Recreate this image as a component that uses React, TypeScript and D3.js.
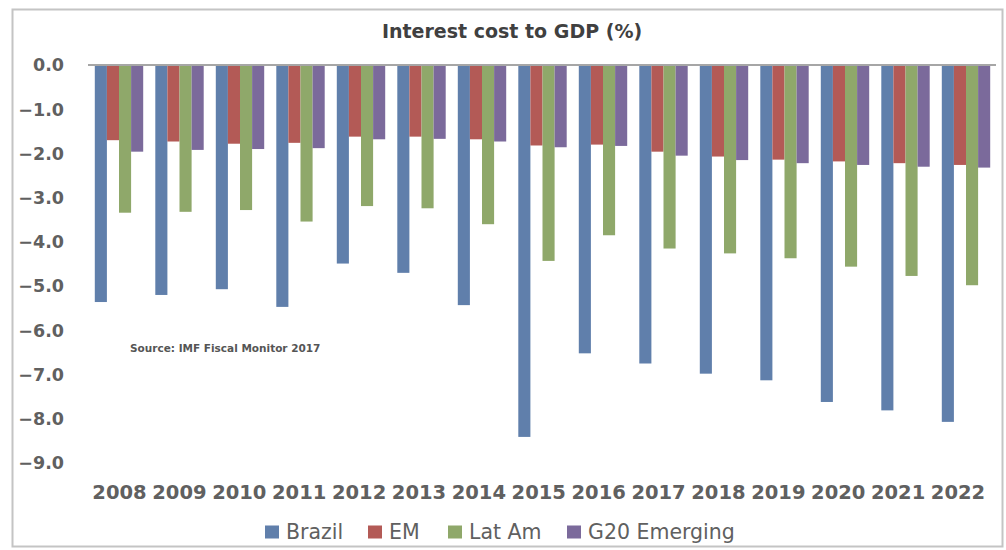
import React from "react";
import * as d3 from "d3";

const years = ["2008","2009","2010","2011","2012","2013","2014","2015","2016","2017","2018","2019","2020","2021","2022"];
const seriesNames = ["Brazil", "EM", "Lat Am", "G20 Emerging"];
const brazil = [-5.36,-5.20,-5.07,-5.47,-4.49,-4.70,-5.43,-8.41,-6.52,-6.75,-6.98,-7.13,-7.62,-7.81,-8.07];
const em = [-1.70,-1.73,-1.78,-1.76,-1.62,-1.62,-1.68,-1.82,-1.80,-1.96,-2.07,-2.14,-2.18,-2.22,-2.26];
const latAm = [-3.34,-3.32,-3.28,-3.54,-3.19,-3.24,-3.60,-4.43,-3.85,-4.15,-4.26,-4.37,-4.56,-4.77,-4.98];
const g20 = [-1.96,-1.92,-1.90,-1.88,-1.68,-1.67,-1.73,-1.86,-1.83,-2.05,-2.15,-2.22,-2.26,-2.30,-2.32];
const yTicks = [0,-1,-2,-3,-4,-5,-6,-7,-8,-9];
const title = "Interest cost to GDP (%)";
const source = "Source: IMF Fiscal Monitor 2017";

const colors = ["#607fab", "#b35a56", "#8fa86a", "#7b6a9b"];
const seriesValues = [brazil, em, latAm, g20];

export default function App() {
  const W = 1006, H = 550;
  const x = d3.scaleBand<string>().domain(years).range([88.75, 996.25]).paddingInner(0.2).paddingOuter(0.1);
  const xLabel = d3.scalePoint<string>().domain(years).range([119.5, 958]);
  const inner = d3.scaleBand<number>().domain([0,1,2,3]).range([0, x.bandwidth()]);
  const y = d3.scaleLinear().domain([-9, 0]).range([463, 65]);
  const fmt = d3.format(".1f");
  const font = "'DejaVu Sans', Verdana, sans-serif";
  const legendX = [265, 368, 448, 567];

  return (
    <svg width={W} height={H} style={{ position: "absolute", left: 0, top: 0, background: "#fff" }}>
      <rect x={12.5} y={9.5} width={990} height={537} fill="#fff" stroke="#c4c4c4" strokeWidth={2} />
      <text x={512} y={38} textAnchor="middle" fontFamily={font} fontWeight="bold" fontSize={19} fill="#404040">{title}</text>
      {seriesValues.map((vals, si) =>
        vals.map((v, i) => (
          <rect key={`${si}-${i}`}
            x={(x(years[i]) as number) + (inner(si) as number)}
            y={y(0)}
            width={inner.bandwidth()}
            height={y(v) - y(0)}
            fill={colors[si]} />
        ))
      )}
      <line x1={88} x2={996} y1={y(0)} y2={y(0)} stroke="#a6a6a6" strokeWidth={2} />
      {yTicks.map(t => (
        <text key={t} x={64} y={y(t)} dy="0.36em" textAnchor="end" fontFamily={font} fontWeight="bold" fontSize={17.5} fill="#606060">{fmt(t)}</text>
      ))}
      {years.map(yr => (
        <text key={yr} x={xLabel(yr) as number} y={492} dy="0.36em" textAnchor="middle" fontFamily={font} fontWeight="bold" fontSize={19.5} fill="#606060">{yr}</text>
      ))}
      <text x={130} y={348} dy="0.36em" fontFamily={font} fontWeight="bold" fontSize={10.5} fill="#555">{source}</text>
      {seriesNames.map((n, i) => (
        <g key={n} transform={`translate(${legendX[i]},532)`}>
          <rect x={0} y={-6.5} width={14} height={13} fill={colors[i]} />
          <text x={21} y={0} dy="0.36em" fontFamily={font} fontSize={20.5} fill="#606060">{n}</text>
        </g>
      ))}
    </svg>
  );
}
